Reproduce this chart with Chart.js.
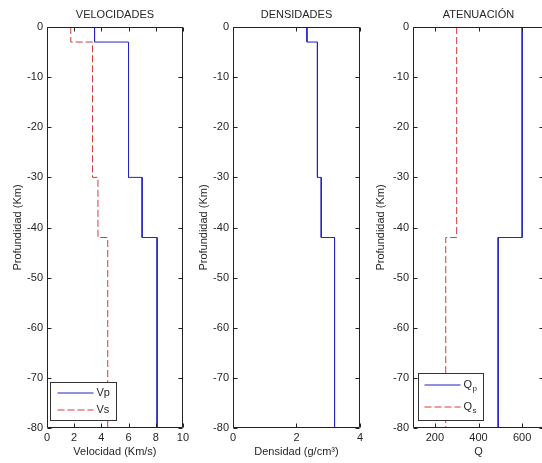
<!DOCTYPE html>
<html lang="es">
<head>
<meta charset="UTF-8" />
<title>Perfiles del modelo</title>
<script src="https://cdn.jsdelivr.net/npm/chart.js@4.4.1/dist/chart.umd.min.js"></script>
<style>
	body { margin: 0; width: 542px; height: 463px; overflow: hidden; position: relative; background: #fff; }
	canvas { position: absolute; top: 0; }
</style>
</head>
<body>
	<canvas id="vel" width="192" height="463" style="left:0px"></canvas>
	<canvas id="den" width="180" height="463" style="left:186px"></canvas>
	<canvas id="ate" width="180" height="463" style="left:366px"></canvas>

<script>
	// capas del modelo (profundidad en km, negativo hacia abajo)
	const depthTop = [0, -3, -30, -42];
	const depthBottom = [-3, -30, -42, -80];
	const vp = [3.5, 6.0, 7.0, 8.1];
	const vs = [1.75, 3.35, 3.75, 4.47];
	const density = [2.33, 2.66, 2.78, 3.2];
	const qp = [600, 600, 600, 490];
	const qs = [300, 300, 300, 250];

	const velTicks = [0, 2, 4, 6, 8, 10];
	const denTicks = [0, 2, 4];
	const qTicks = [200, 400, 600];

	const TEXT = '#262626';
	const AXIS = '#222222';
	const BLUE = '#2323c0';
	const RED = '#d83a3a';
	const FONT = { family: '"Liberation Sans", Arial, sans-serif', size: 11 };

	// escalones: cada capa da un tramo vertical
	function steps(vals) {
		const pts = [];
		vals.forEach((v, i) => {
			pts.push({ x: v, y: depthTop[i] });
			pts.push({ x: v, y: depthBottom[i] });
		});
		return pts;
	}

	// caja estilo matlab con marcas hacia dentro y leyenda
	const boxPlugin = {
		id: 'box',
		afterDatasetsDraw(chart, args, opts) {
			const { ctx, chartArea: a, scales: { x, y } } = chart;
			const L = Math.round(a.left) + 0.5, R = Math.round(a.right) - 0.5;
			const T = Math.round(a.top) + 0.5, B = Math.round(a.bottom) - 0.5;
			ctx.save();
			ctx.strokeStyle = AXIS;
			ctx.lineWidth = 1;
			ctx.beginPath();
			ctx.rect(L, T, R - L, B - T);
			x.ticks.forEach(t => {
				const px = Math.round(x.getPixelForValue(t.value)) + 0.5;
				ctx.moveTo(px, T); ctx.lineTo(px, T + 4);
				ctx.moveTo(px, B); ctx.lineTo(px, B - 4);
			});
			y.ticks.forEach(t => {
				const py = Math.round(y.getPixelForValue(t.value)) + 0.5;
				ctx.moveTo(L, py); ctx.lineTo(L + 4, py);
				ctx.moveTo(R, py); ctx.lineTo(R - 4, py);
			});
			ctx.stroke();

			const lg = opts.legend;
			if (lg) {
				const bx = Math.round(a.left) + lg.dx + 0.5;
				const by = Math.round(a.bottom) - lg.h - 8 + 0.5;
				ctx.fillStyle = '#fff';
				ctx.fillRect(bx, by, lg.w, lg.h);
				ctx.strokeStyle = '#333';
				ctx.strokeRect(bx, by, lg.w, lg.h);
				lg.items.forEach((it, i) => {
					const ly = Math.round(by + lg.first + i * lg.gap);
					ctx.beginPath();
					ctx.strokeStyle = it.color;
					ctx.lineWidth = 1;
					ctx.setLineDash(it.dash || []);
					ctx.moveTo(bx + lg.lx, ly);
					ctx.lineTo(bx + lg.lx + 36, ly);
					ctx.stroke();
					ctx.setLineDash([]);
					ctx.fillStyle = TEXT;
					ctx.textBaseline = 'middle';
					ctx.font = '11px ' + FONT.family;
					const tx = bx + lg.lx + 39;
					ctx.fillText(it.label, tx, ly);
					if (it.sub) {
						ctx.font = '8px ' + FONT.family;
						ctx.fillText(it.sub, tx + 9, ly + 4);
					}
				});
			}
			ctx.restore();
		}
	};

	function makePanel(id, o) {
		return new Chart(document.getElementById(id), {
			type: 'scatter',
			data: {
				datasets: o.sets.map(s => ({
					data: s.points,
					showLine: true,
					borderColor: s.color,
					borderWidth: 1,
					borderDash: s.dash || [],
					pointRadius: 0,
					fill: false
				}))
			},
			options: {
				responsive: false,
				animation: false,
				layout: { padding: { left: 0, right: o.padRight, top: 0, bottom: 0 } },
				plugins: {
					legend: { display: false },
					tooltip: { enabled: false },
					title: {
						display: true,
						fullSize: false,
						text: o.title,
						color: TEXT,
						font: { ...FONT, weight: 'normal' },
						padding: { top: 8.5, bottom: 5.3 }
					},
					box: { legend: o.legend }
				},
				scales: {
					x: {
						type: 'linear',
						min: o.xmin,
						max: o.xmax,
						afterBuildTicks: s => { s.ticks = o.xticks.map(v => ({ value: v })); },
						ticks: { color: TEXT, font: FONT, padding: 3, maxRotation: 0, autoSkip: false },
						grid: { display: false, drawTicks: false },
						border: { display: false },
						title: { display: true, text: o.xlabel, color: TEXT, font: FONT, padding: { top: 0, bottom: 4 } },
						afterFit: s => { s.height = 35; }
					},
					y: {
						type: 'linear',
						min: -80,
						max: 0,
						ticks: { stepSize: 10, color: TEXT, font: FONT, padding: 4 },
						grid: { display: false, drawTicks: false },
						border: { display: false },
						title: { display: true, text: 'Profundidad (Km)', color: TEXT, font: FONT, padding: { top: o.ytitlePad, bottom: 0 } },
						afterFit: s => { s.width = 47; }
					}
				}
			},
			plugins: [boxPlugin]
		});
	}

	makePanel('vel', {
		title: 'VELOCIDADES',
		xlabel: 'Velocidad (Km/s)',
		xmin: 0, xmax: 10, xticks: velTicks,
		padRight: 9, ytitlePad: 11,
		sets: [
			{ points: steps(vp), color: BLUE },
			{ points: steps(vs), color: RED, dash: [7, 3] }
		],
		legend: {
			dx: 3, w: 66, h: 38, lx: 7, first: 10, gap: 17,
			items: [
				{ label: 'Vp', color: BLUE },
				{ label: 'Vs', color: RED, dash: [7, 3] }
			]
		}
	});

	makePanel('den', {
		title: 'DENSIDADES',
		xlabel: 'Densidad (g/cm³)',
		xmin: 0, xmax: 4, xticks: denTicks,
		padRight: 2, ytitlePad: 11,
		sets: [
			{ points: steps(density), color: BLUE }
		]
	});

	makePanel('ate', {
		title: 'ATENUACIÓN',
		xlabel: 'Q',
		xmin: 100, xmax: 700, xticks: qTicks,
		padRight: 2, ytitlePad: 8,
		sets: [
			{ points: steps(qp), color: BLUE },
			{ points: steps(qs), color: RED, dash: [7, 3] }
		],
		legend: {
			dx: 5, w: 65, h: 47, lx: 6, first: 11, gap: 22,
			items: [
				{ label: 'Q', sub: 'p', color: BLUE },
				{ label: 'Q', sub: 's', color: RED, dash: [7, 3] }
			]
		}
	});
</script>
</body>
</html>
